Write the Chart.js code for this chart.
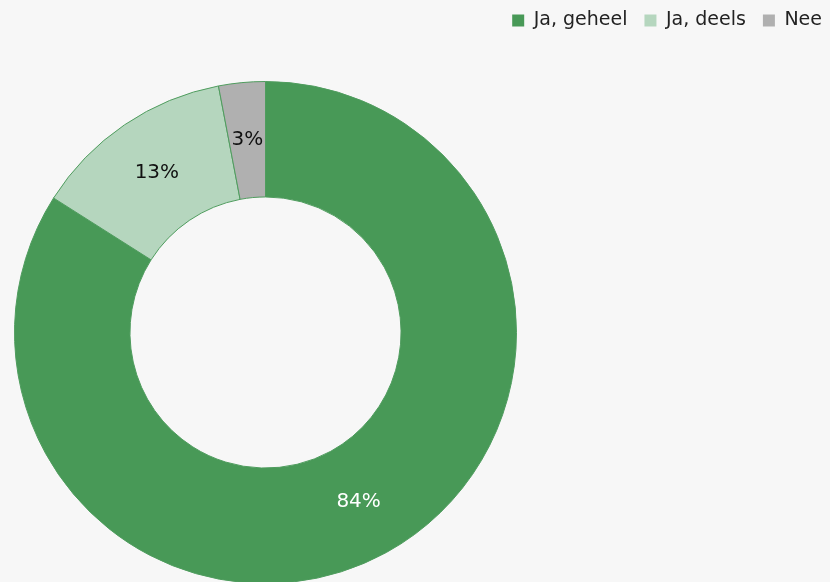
<!DOCTYPE html>
<html>
<head>
<meta charset="utf-8">
<script src="https://cdn.jsdelivr.net/npm/chart.js@4/dist/chart.umd.min.js"></script>
<style>
  html, body { margin: 0; padding: 0; background: #f7f7f7; }
  #wrap { width: 830px; height: 582px; position: relative; }
</style>
</head>
<body>
<div id="wrap"><canvas id="pieChart"></canvas></div>
<script>
const labels = ['Ja, geheel', 'Ja, deels', 'Nee'];
const values = [84, 13, 3];
const colors = ['#489957', '#b5d6be', '#b0b0b0'];
const labelColors = ['#ffffff', '#111111', '#111111'];

// doughnut sits in the left part of the canvas, legend stays top right
const pieBox = { left: 14, top: 81, size: 503 };

const placePie = {
    id: 'placePie',
    afterLayout(chart) {
        let area = chart.chartArea;
        area.left = pieBox.left;
        area.top = pieBox.top;
        area.right = pieBox.left + pieBox.size;
        area.bottom = pieBox.top + pieBox.size;
        area.width = pieBox.size;
        area.height = pieBox.size;
    }
};

const sliceLabels = {
    id: 'sliceLabels',
    afterDatasetsDraw(chart) {
        let ctx = chart.ctx;
        let meta = chart.getDatasetMeta(0);
        ctx.save();
        ctx.font = '20px "DejaVu Sans"';
        ctx.textAlign = 'center';
        ctx.textBaseline = 'middle';
        meta.data.forEach(function (arc, i) {
            let pos = arc.tooltipPosition();
            ctx.fillStyle = labelColors[i];
            ctx.fillText(values[i] + '%', pos.x, pos.y);
        });
        ctx.restore();
    }
};

function renderChart(divId) {
    let ctx = document.getElementById(divId).getContext('2d');
    let myChart = new Chart(ctx, {
        type: 'doughnut',
        data: {
            labels: labels,
            datasets: [{
                data: values,
                backgroundColor: colors,
                borderColor: '#4f9c5e',
                borderWidth: 1,
            }]
        },
        options: {
            responsive: true,
            maintainAspectRatio: false,
            animation: false,
            cutout: '54%',
            layout: { padding: { top: -6, right: -9 } },
            plugins: {
                legend: {
                    position: 'top',
                    align: 'end',
                    labels: {
                        boxWidth: 12,
                        boxHeight: 12,
                        padding: 17,
                        color: '#222',
                        font: { family: '"DejaVu Sans"', size: 19 },
                        generateLabels(chart) {
                            let items = Chart.overrides.doughnut.plugins.legend.labels.generateLabels(chart);
                            items.forEach(function (it) { it.lineWidth = 0; });
                            return items;
                        }
                    }
                },
                tooltip: { enabled: false }
            }
        },
        plugins: [placePie, sliceLabels]
    });
}

renderChart('pieChart');
</script>
</body>
</html>
